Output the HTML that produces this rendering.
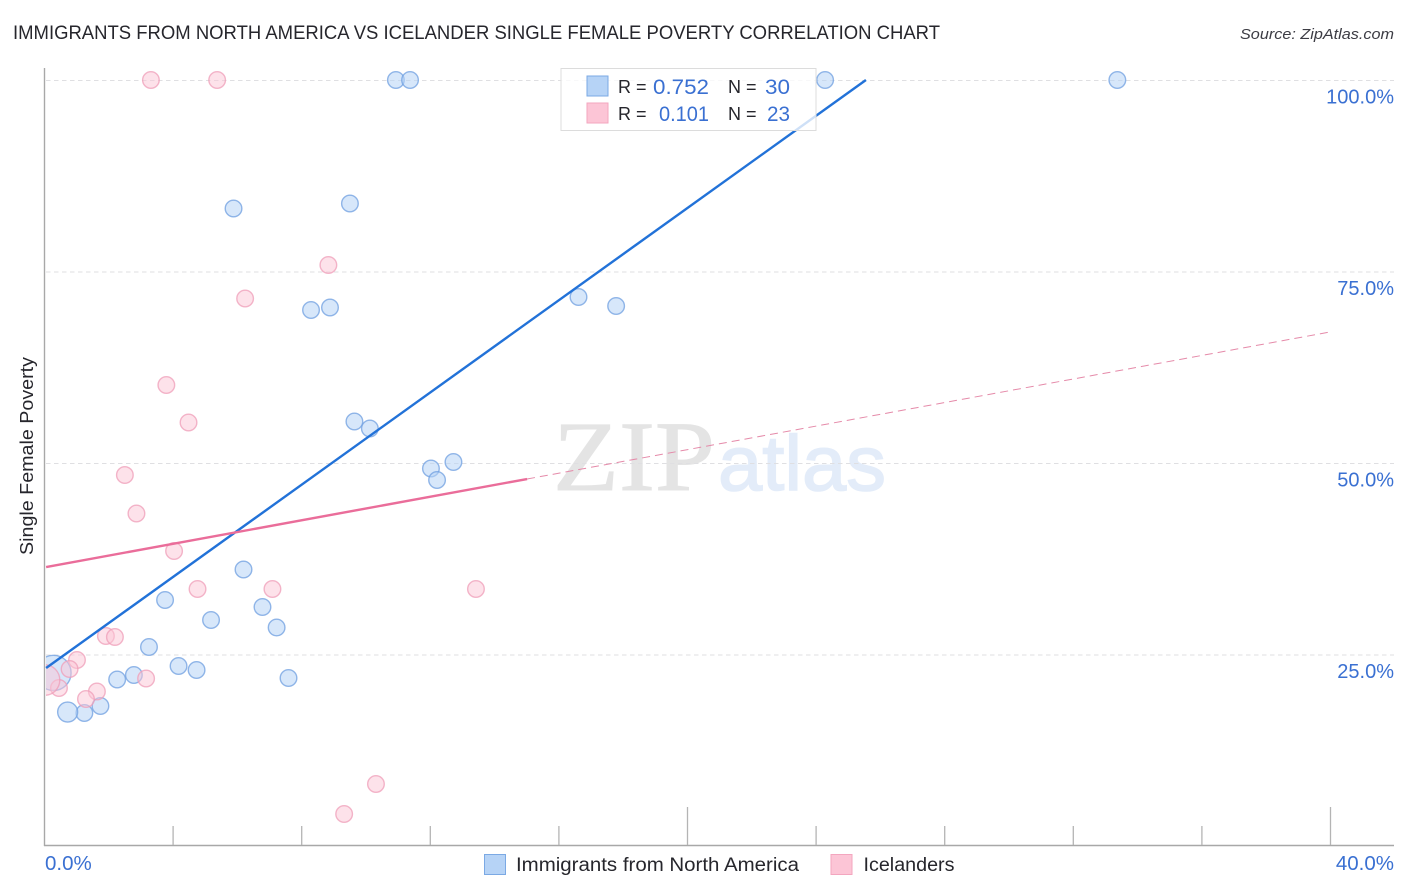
<!DOCTYPE html>
<html lang="en">
<head>
<meta charset="utf-8">
<title>Immigrants from North America vs Icelander Single Female Poverty Correlation Chart</title>
<style>
html,body{margin:0;padding:0;background:#fff;width:1406px;height:892px;overflow:hidden}
svg{display:block;font-family:"Liberation Sans",sans-serif}
</style>
</head>
<body>
<svg id="chart" xmlns="http://www.w3.org/2000/svg" width="1406" height="892" viewBox="0 0 1406 892">
  <text x="13" y="39" font-size="19.5" fill="#26262c" textLength="927" lengthAdjust="spacingAndGlyphs">IMMIGRANTS FROM NORTH AMERICA VS ICELANDER SINGLE FEMALE POVERTY CORRELATION CHART</text>
  <text x="1240" y="39" font-size="15" font-style="italic" fill="#3c3c44" textLength="154" lengthAdjust="spacingAndGlyphs">Source: ZipAtlas.com</text>
  <g>
    <text x="553" y="490" font-family="'Liberation Serif',serif" font-size="100" fill="#e4e4e4" stroke="#e4e4e4" stroke-width="1" textLength="162" lengthAdjust="spacingAndGlyphs">ZIP</text>
    <text x="718" y="490" font-family="'Liberation Sans',sans-serif" font-size="78" fill="#e3ecf9" stroke="#e3ecf9" stroke-width="1.5" textLength="168" lengthAdjust="spacingAndGlyphs">atlas</text>
  </g>
  <g id="grid"></g>
  <g id="axes"></g>
  <g id="series"></g>
  <text transform="translate(33,456) rotate(-90)" font-size="18.5" fill="#26262c" text-anchor="middle" textLength="198" lengthAdjust="spacingAndGlyphs">Single Female Poverty</text>

  <g>
    <rect x="561" y="68.5" width="255" height="62" fill="#ffffff" fill-opacity="0.78" stroke="#dcdcdc" stroke-width="1"></rect>
    <rect x="587" y="76" width="21" height="20" fill="#b6d3f6" stroke="#7ba9e4" stroke-width="1"></rect>
    <rect x="587" y="103" width="21" height="20" fill="#fcc5d6" stroke="#f3a6bf" stroke-width="1"></rect>
    <g font-size="18" fill="#26262c">
      <text x="618" y="93">R =</text>
      <text x="728" y="93">N =</text>
      <text x="618" y="120">R =</text>
      <text x="728" y="120">N =</text>
    </g>
    <g font-size="21" fill="#3a70d2" text-anchor="end">
      <text x="709" y="94" textLength="56" lengthAdjust="spacingAndGlyphs">0.752</text>
      <text x="790" y="94" textLength="25" lengthAdjust="spacingAndGlyphs">30</text>
      <text x="709" y="121" textLength="50" lengthAdjust="spacingAndGlyphs">0.101</text>
      <text x="790" y="121" textLength="23" lengthAdjust="spacingAndGlyphs">23</text>
    </g>
  </g>

  <g>
    <rect x="484.5" y="854.5" width="21" height="20" fill="#b6d3f6" stroke="#7ba9e4" stroke-width="1"></rect>
    <text x="516" y="871" font-size="19" fill="#26262c" textLength="283" lengthAdjust="spacingAndGlyphs">Immigrants from North America</text>
    <rect x="831" y="854.5" width="21" height="20" fill="#fcc5d6" stroke="#f3a6bf" stroke-width="1"></rect>
    <text x="863.5" y="871" font-size="19" fill="#26262c" textLength="91" lengthAdjust="spacingAndGlyphs">Icelanders</text>
  </g>
</svg>
<script>
// ---- Chart data (percent units) ----
const yTickValues = [100, 75, 50, 25];
const yTickLabels = ["100.0%", "75.0%", "50.0%", "25.0%"];
const xTickValues = [4, 8, 12, 16, 20, 24, 28, 32, 36, 40];
const xMajorTicks = [20, 40];
const xEndValues = [0, 40];
const xEndLabels = ["0.0%", "40.0%"];

const immigrantsX = [10.93, 11.37, 24.28, 33.37, 5.88, 9.50, 8.29, 8.88, 16.61, 17.78, 9.64, 10.12, 12.02, 12.72, 12.21, 6.19, 3.75, 6.78, 5.18, 7.22, 3.25, 4.17, 4.73, 2.78, 2.26, 7.59, 1.74, 1.24, 0.72, 0.28];
const immigrantsY = [100, 100, 100, 100, 83.22, 83.88, 69.97, 70.30, 71.67, 70.50, 55.42, 54.50, 49.28, 50.13, 47.78, 36.10, 32.11, 31.20, 29.50, 28.52, 25.98, 23.50, 22.98, 22.32, 21.74, 21.93, 18.28, 17.36, 17.49, 22.60];
const immigrantsWeight = [1, 1, 1, 1, 1, 1, 1, 1, 1, 1, 1, 1, 1, 1, 1, 1, 1, 1, 1, 1, 1, 1, 1, 1, 1, 1, 1, 1, 1.45, 4.5];

const icelandersX = [3.31, 5.37, 8.83, 6.24, 3.79, 4.48, 2.50, 2.86, 4.03, 4.76, 7.09, 13.42, 1.91, 2.19, 1.01, 0.78, 3.16, 1.63, 1.29, 0.45, 0.00, 10.31, 9.32];
const icelandersY = [100, 100, 75.85, 71.48, 60.18, 55.29, 48.43, 43.41, 38.51, 33.55, 33.55, 33.55, 27.42, 27.29, 24.28, 23.11, 21.87, 20.17, 19.19, 20.63, 21.67, 8.09, 4.18];
const icelandersWeight = [1, 1, 1, 1, 1, 1, 1, 1, 1, 1, 1, 1, 1, 1, 1, 1, 1, 1, 1, 1, 3.4, 1, 1];

const immigrantsTrendX = [0.05, 25.55];
const immigrantsTrendY = [23.24, 100];
const icelandersTrendX = [0.05, 15.01];
const icelandersTrendY = [36.42, 47.91];
const icelandersForecastX = [15.01, 39.98];
const icelandersForecastY = [47.91, 67.10];

// ---- Axis functions ----
const NS = "http://www.w3.org/2000/svg";
function xScale(v) { return 44.5 + v * 32.15; }
function yScale(v) { return 80 + (100 - v) * 7.66; }
function rScale(w) { return 8.3 * Math.sqrt(w); }
function make(tag, attrs, parent) {
  const el = document.createElementNS(NS, tag);
  for (const k in attrs) el.setAttribute(k, attrs[k]);
  parent.appendChild(el);
  return el;
}

const grid = document.getElementById("grid");
const axes = document.getElementById("axes");
const series = document.getElementById("series");

// clip for marks at the plot's left edge
const defs = make("defs", {}, series);
const clip = make("clipPath", { id: "plot-clip" }, defs);
make("rect", { x: 46, y: 60, width: 1350, height: 786 }, clip);

// gridlines and y labels
yTickValues.forEach(function (v, i) {
  const line = make("line", { x1: 46, x2: 1394, y1: yScale(v) + 0.5, y2: yScale(v) + 0.5, stroke: "#dfdfe2", "stroke-width": 1, "stroke-dasharray": "4.5 3.5" }, grid);
  
  
  const t = make("text", { x: 1394, y: yScale(v) + 23.5, "font-size": 20, fill: "#3a70d2", "text-anchor": "end" }, axes);
  
  
  t.textContent = yTickLabels[i];
});

// axis lines
const yAxis = make("line", { x1: 44.5, x2: 44.5, y1: 68, y2: 846, stroke: "#a8a8a8", "stroke-width": 1.4 }, axes);


const xAxis = make("line", { x1: 44, x2: 1394, y1: 845.5, y2: 845.5, stroke: "#a8a8a8", "stroke-width": 1.4 }, axes);



// x ticks
xTickValues.forEach(function (v) {
  const top = xMajorTicks.indexOf(v) >= 0 ? 807 : 826;
  const tick = make("line", { x1: xScale(v), x2: xScale(v), y1: top, y2: 845, stroke: "#b4b4b4", "stroke-width": 1.3 }, axes);
  
  
});

// x end labels
xEndValues.forEach(function (v, i) {
  const t = make("text", { x: i === 0 ? xScale(v) + 0.5 : 1394, y: 870, "font-size": 20.5, fill: "#3a70d2", "text-anchor": i === 0 ? "start" : "end" }, axes);
  
  
  t.textContent = xEndLabels[i];
});

// points
const marks = make("g", { "clip-path": "url(#plot-clip)" }, series);



immigrantsX.forEach(function (v, i) {
  const c = make("circle", { cx: xScale(v), cy: yScale(immigrantsY[i]), r: rScale(immigrantsWeight[i]), fill: "#b6d3f6", "fill-opacity": 0.55, stroke: "#6f9fe0", "stroke-opacity": 0.75, "stroke-width": 1.4 }, marks);
  
  
});
icelandersX.forEach(function (v, i) {
  const c = make("circle", { cx: xScale(v), cy: yScale(icelandersY[i]), r: rScale(icelandersWeight[i]), fill: "#fcc5d6", "fill-opacity": 0.5, stroke: "#ef9db8", "stroke-opacity": 0.75, "stroke-width": 1.4 }, marks);
  
  
});

// trend lines
const blueTrend = make("line", { x1: xScale(immigrantsTrendX[0]), y1: yScale(immigrantsTrendY[0]), x2: xScale(immigrantsTrendX[1]), y2: yScale(immigrantsTrendY[1]), stroke: "#2272d8", "stroke-width": 2.4 }, series);


const pinkTrend = make("line", { x1: xScale(icelandersTrendX[0]), y1: yScale(icelandersTrendY[0]), x2: xScale(icelandersTrendX[1]), y2: yScale(icelandersTrendY[1]), stroke: "#ea6d9a", "stroke-width": 2.4 }, series);


const pinkForecast = make("line", { x1: xScale(icelandersForecastX[0]), y1: yScale(icelandersForecastY[0]), x2: xScale(icelandersForecastX[1]), y2: yScale(icelandersForecastY[1]), stroke: "#e58aa9", "stroke-width": 1, "stroke-dasharray": "8 5" }, series);


</script>
</body>
</html>
